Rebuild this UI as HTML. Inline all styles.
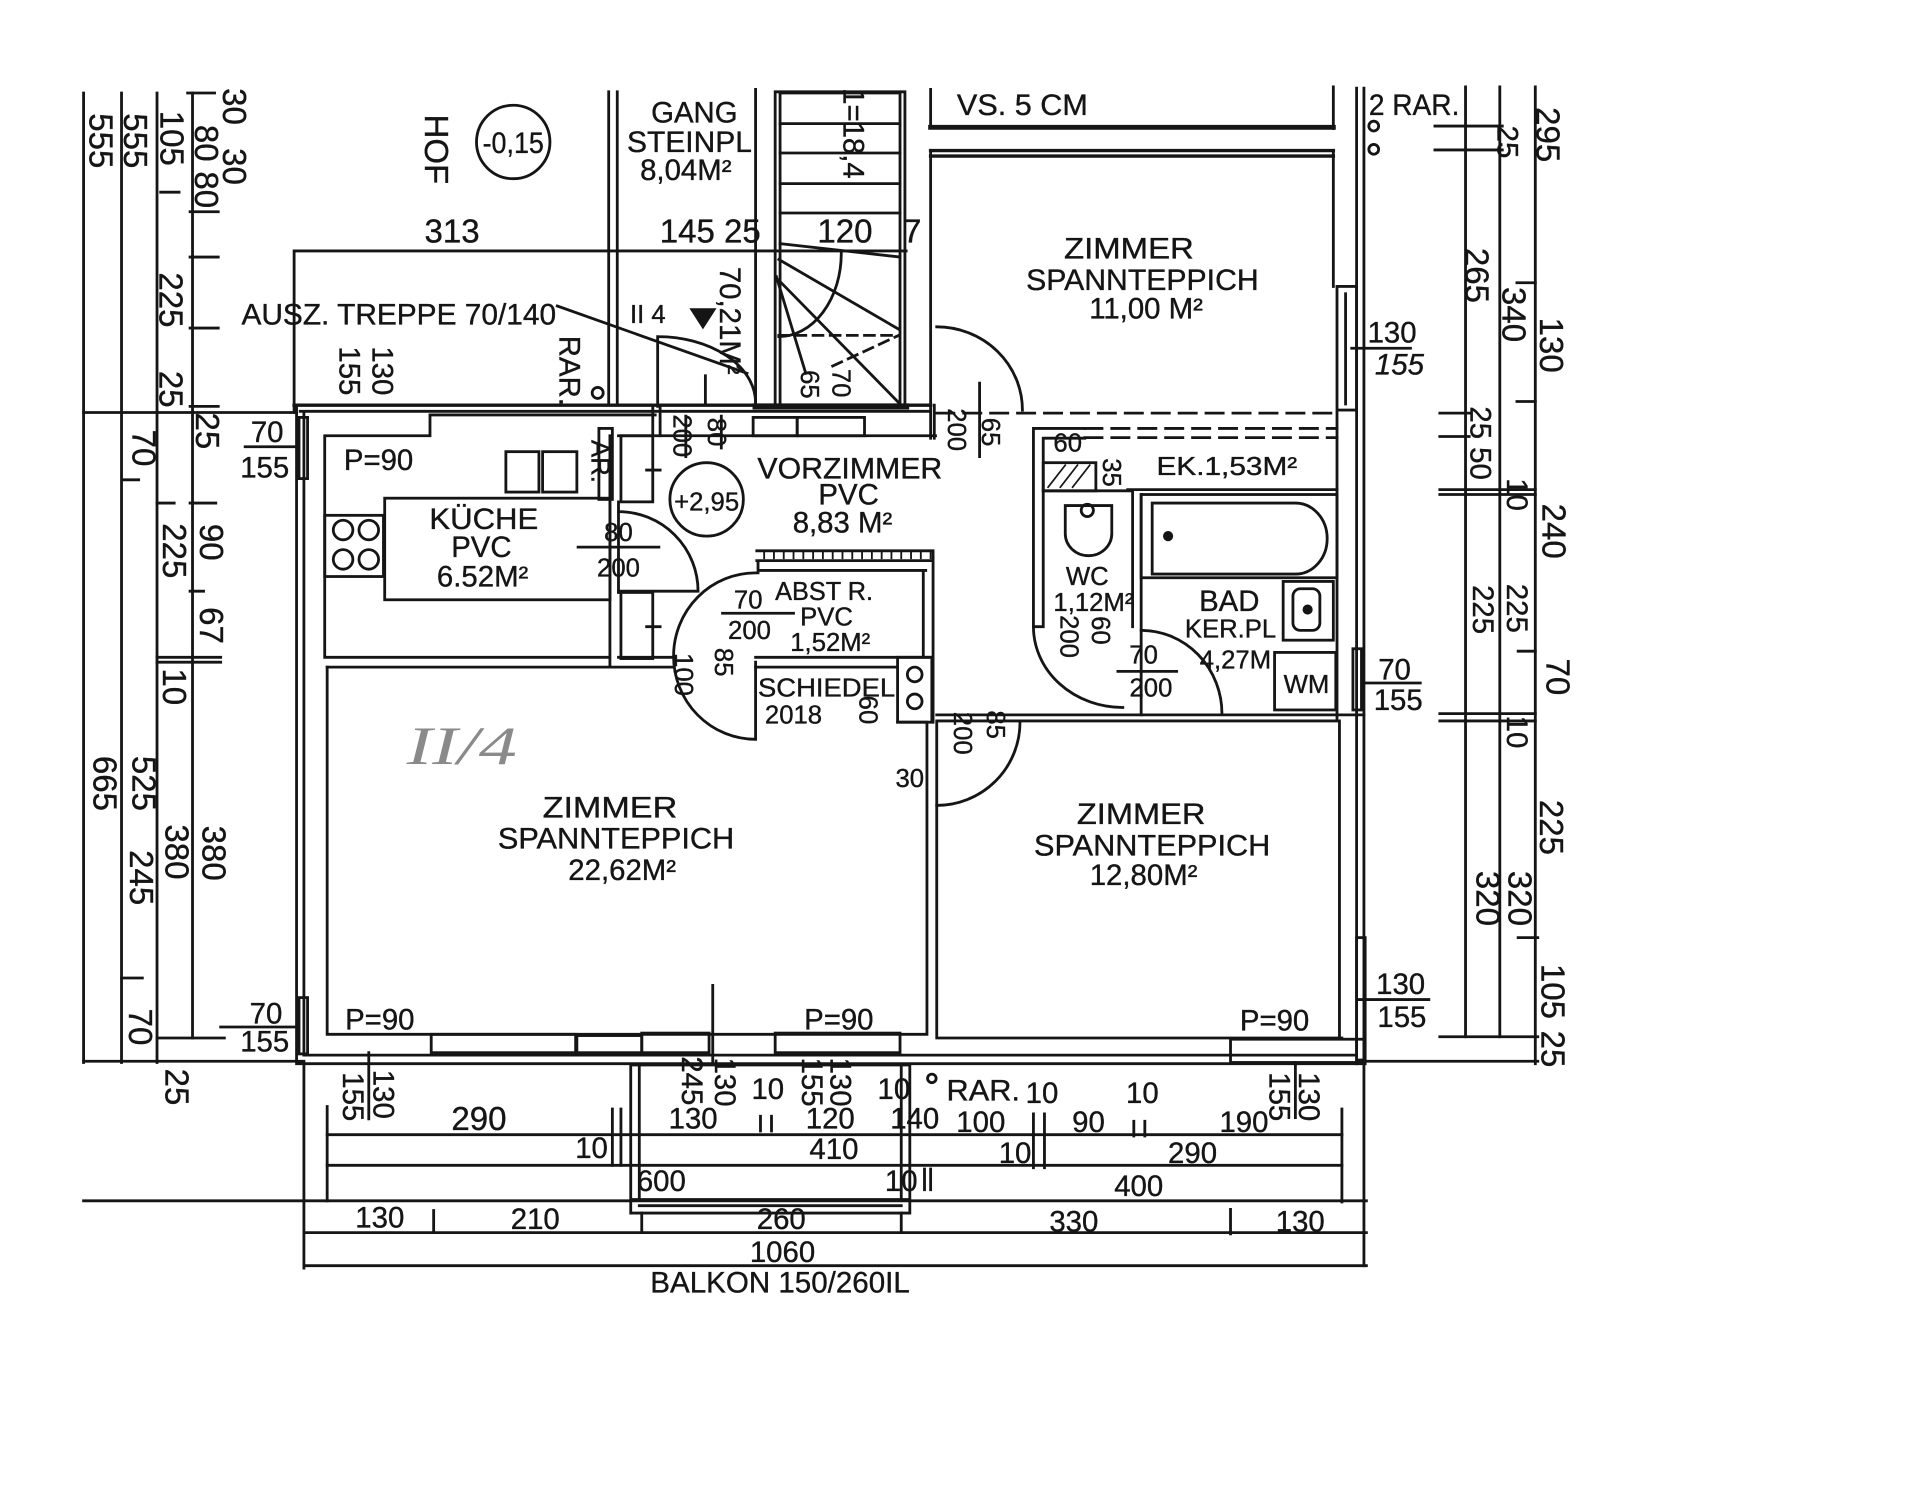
<!DOCTYPE html>
<html><head><meta charset="utf-8"><style>
html,body{margin:0;padding:0;background:#fff;overflow:hidden}
svg{display:block}
.t{font-family:"Liberation Sans",sans-serif;font-size:27px;fill:#151515;stroke:#151515;stroke-width:0.3}
.s{font-size:24px}
.x{font-size:21px}
</style></head><body>
<svg width="1920" height="1486" viewBox="0 0 1568 1214" xmlns="http://www.w3.org/2000/svg">
<rect width="1568" height="1214" fill="#fff"/>
<g fill="none" stroke="#151515" stroke-width="2.3" stroke-linecap="square">
<!-- left dimension lines -->
<path d="M68 76V868M99 76V868M128 76V868M157 76V848"/>
<path d="M68 337H242M68 867H248M128 848H183"/>
<path d="M153 76H175M155 173H178M155 210H178M155 268H178M155 332H178M131 157H146M101 392H113M155 411H176M128 411H142M155 483H166M128 537H180M128 541H180M99 799H116"/>
<!-- top-left -->
<path d="M240 205V337M240 205H740"/>
<!-- gang -->
<path d="M497 75V330M504 75V330M617 73V330"/>
<!-- stair -->
<path d="M633 75V332M637 75V332M735 75V332M739 75V332M633 75H739"/>
<path d="M637 76H735M637 101H735M637 125H735M637 150H735M637 174H735M637 199L735 210"/>
<path d="M636 212L734 269M636 229L734 329M634 226L658 305"/>
<path d="M636 274H734M680 299L734 274" stroke-dasharray="8 6"/>
<path d="M687 207A51 68 0 0 1 636 275"/>
<path d="M617 332H740" stroke-width="5"/>
<!-- AUSZ door -->
<path d="M455 250L610 305M537 275V332M576 307V330M537 275A80 54 0 0 1 617 329"/>
<path d="M565 253L583 253L574 267Z" fill="#151515"/>
<circle cx="488" cy="321" r="4.5"/>
<circle cx="419" cy="116" r="30"/>
<!-- VS box & zimmer 11 -->
<path d="M760 73V104M1089 71V105"/>
<path d="M760 104H1089" stroke-width="4"/>
<path d="M760 123H1089M760 127.5H1089" stroke-width="2.8"/>
<path d="M760 123V358M1089 123V234"/>
<rect x="1092" y="234" width="16" height="101"/>
<path d="M1099 240V330"/>
<path d="M1108 72V869M1114 72V869"/>
<circle cx="1122" cy="103" r="4"/><circle cx="1122" cy="122" r="4"/>
<path d="M1104 284.5H1152"/>
<!-- dashed -->
<path d="M765 337.5H1092M886 350H1092M886 357.5H1092" stroke-dasharray="14 8"/>
<!-- building outline -->
<path d="M240 331H760" stroke-width="2.8"/>
<path d="M245 336H760M242 331V869M248 336V862M242 869H1115M248 862H1108"/>
<rect x="244" y="341" width="7" height="50"/>
<rect x="244" y="815" width="7" height="46"/>
<!-- kitchen -->
<path d="M265 356H351V339H535M265 356V537M265 537H498M498 356V545M505 410V484"/>
<path d="M533 331V356M539 331V356"/>
<rect x="413" y="369" width="27" height="33"/><rect x="443" y="369" width="28" height="33"/>
<rect x="489" y="350" width="11" height="58"/>
<rect x="314" y="407" width="184" height="83"/>
<rect x="265" y="421" width="48" height="50"/>
<circle cx="280" cy="433" r="8"/><circle cx="301" cy="433" r="8"/><circle cx="280" cy="457" r="8"/><circle cx="301" cy="457" r="8"/>
<path d="M505 418A65 65 0 0 1 570 483L505 483"/>
<path d="M472 447H538"/>
<rect x="507" y="356" width="26" height="54"/><rect x="507" y="484" width="26" height="54"/>
<path d="M528 384H539M528 512H539"/>
<circle cx="577" cy="408" r="30"/>
<!-- vorzimmer -->
<path d="M505 356H764"/>
<rect x="615" y="341" width="36" height="15"/><rect x="651" y="341" width="55" height="15"/>
<path d="M560 340V373M589 340V366"/>
<path d="M765 267A70 68 0 0 1 835 335M800 313V373M763 331V358"/>
<!-- zimmer 22 top -->
<path d="M267 545H550M505 537H550"/>
<!-- abstr -->
<path d="M618 450H762M618 458H762M620 466H756M619 458V468M762 450V590M754 466V537M617 537H762M617 545H733"/>
<path d="M624 450v6M632 450v6M640 450v6M648 450v6M656 450v6M664 450v6M672 450v6M680 450v6M688 450v6M696 450v6M704 450v6M712 450v6M720 450v6M728 450v6M736 450v6M744 450v6M752 450v6M760 450v6" stroke-width="1.5"/>
<path d="M590 501H648"/>
<path d="M617 468A67 68 0 0 0 617 604M617 541V604"/>
<rect x="733" y="537" width="28" height="53"/>
<circle cx="747" cy="551" r="6"/><circle cx="747" cy="573" r="6"/>
<!-- zimmer 22 -->
<path d="M267 545V845M267 845H757M757 590V845M733 590H757"/>
<path d="M582 805V868"/>
<!-- WC/EK/bath -->
<path d="M844 350V512M852 358V512M844 512H852M844 350H886M852 358H886M921 400H1092"/>
<rect x="852" y="378" width="43" height="23"/>
<path d="M856 398L870 380M866 398L880 380M876 398L890 380" stroke-width="1.4"/>
<path d="M852 401H925M925 401V512M932 404V584"/>
<path d="M870 413H908V436A19 18 0 0 1 870 436Z"/>
<circle cx="888" cy="417" r="5"/>
<rect x="932" y="404" width="160" height="68"/>
<path d="M941 411H1058A26 29 0 0 1 1058 469H941Z"/>
<circle cx="954" cy="438" r="3" fill="#151515"/>
<rect x="1048" y="475" width="41" height="48"/>
<rect x="1056" y="481" width="22" height="34" rx="6"/>
<circle cx="1068" cy="498" r="3" fill="#151515"/>
<rect x="1041" y="533" width="50" height="47"/>
<path d="M932 515A66 68 0 0 1 998 583M844 512A73 66 0 0 0 917 578M913 548.5H961"/>
<rect x="1105" y="530" width="7" height="50"/>
<path d="M1114 558H1160"/>
<!-- zimmer 12.80 -->
<path d="M765 584H1114M765 589H1092M765 589V848M765 848H1096M1094 589V848M1092 337V589"/>
<path d="M833 590A68 68 0 0 1 765 658"/>
<rect x="1108" y="766" width="7" height="100"/>
<path d="M1110 816.6H1167"/>
<!-- left windows labels lines -->
<path d="M200 365H242M180 839H242"/>
<!-- bottom windows -->
<rect x="352" y="845" width="118" height="15"/><rect x="471" y="846" width="53" height="14"/>
<rect x="524" y="844" width="55" height="16"/><rect x="633" y="844" width="102" height="16"/>
<rect x="1005" y="849" width="109" height="19"/>
<!-- balcony -->
<path d="M515 870V991M522 870V980M736 870V980M743 870V991M515 870H743M515 980H743M522 985H736M515 991H743"/>
<!-- bottom dims -->
<path d="M267 927H1096M267 952H1096M68 981H1116M248 1007H1116M248 1034H1116"/>
<path d="M267 904V981M248 869V1036M1096 906V982M1114 869V1034M524 991V1007M736 991V1007"/>
<path d="M500 906V952M507 906V952M621 912V924M630 912V924M844 910V954M853 910V954M926 916V928M935 916V928M354 989V1006M1005 988V1008M755 955V972M760 955V972"/>
<path d="M301 860V914M1058 868V913"/>
<circle cx="761" cy="881" r="3.5"/>
<!-- right dims -->
<path d="M1197 71V847M1225 71V847M1254 71V869"/>
<path d="M1172 103H1227M1172 122.5H1227M1239 231H1254M1239 328H1254M1176 337.5H1200M1176 356.6H1200M1176 400H1254M1176 404H1254M1240 532H1254M1176 583H1254M1176 589H1254M1240 766H1256M1176 847H1256M1114 867H1256"/>
</g>
<!-- handwritten -->
<text x="332" y="624" font-family="Liberation Serif,serif" font-style="italic" font-size="44" fill="#8a8a8a" textLength="90" lengthAdjust="spacingAndGlyphs">II/4</text>
<g class="t">
<!-- left rotated -->
<text text-anchor="middle" transform="translate(73,115) rotate(90)">555</text>
<text text-anchor="middle" transform="translate(101,115) rotate(90)">555</text>
<text text-anchor="middle" transform="translate(131,113) rotate(90)">105</text>
<text text-anchor="middle" transform="translate(159,117) rotate(90)">80</text>
<text text-anchor="middle" transform="translate(159,155) rotate(90)">80</text>
<text text-anchor="middle" transform="translate(182,87) rotate(90)">30</text>
<text text-anchor="middle" transform="translate(182,136) rotate(90)">30</text>
<text text-anchor="middle" transform="translate(130,245) rotate(90)">225</text>
<text text-anchor="middle" transform="translate(130,318) rotate(90)">25</text>
<text text-anchor="middle" transform="translate(160,352) rotate(90)">25</text>
<text text-anchor="middle" transform="translate(108,366) rotate(90)">70</text>
<text text-anchor="middle" transform="translate(133,450) rotate(90)">225</text>
<text text-anchor="middle" transform="translate(163,443) rotate(90)">90</text>
<text text-anchor="middle" transform="translate(163,511) rotate(90)">67</text>
<text text-anchor="middle" transform="translate(133,561) rotate(90)">10</text>
<text text-anchor="middle" transform="translate(76,640) rotate(90)">665</text>
<text text-anchor="middle" transform="translate(108,640) rotate(90)">525</text>
<text text-anchor="middle" transform="translate(135,696) rotate(90)">380</text>
<text text-anchor="middle" transform="translate(165,697) rotate(90)">380</text>
<text text-anchor="middle" transform="translate(106,717) rotate(90)">245</text>
<text text-anchor="middle" transform="translate(105,839) rotate(90)">70</text>
<text text-anchor="middle" transform="translate(135,888) rotate(90)">25</text>
<text text-anchor="middle" transform="translate(347,122) rotate(90)">HOF</text>
<text class="s" text-anchor="middle" x="419" y="125" textLength="50" lengthAdjust="spacingAndGlyphs">-0,15</text>
<!-- top -->
<text text-anchor="middle" x="369" y="198">313</text>
<text text-anchor="middle" x="580" y="198">145 25</text>
<text text-anchor="middle" x="690" y="198">120</text>
<text text-anchor="middle" x="745" y="198">7</text>
<text class="s" text-anchor="middle" x="567" y="100">GANG</text>
<text class="s" text-anchor="middle" x="563" y="124" textLength="102" lengthAdjust="spacingAndGlyphs">STEINPL</text>
<text class="s" text-anchor="middle" x="560" y="147">8,04M²</text>
<text class="s" text-anchor="middle" transform="translate(689,109) rotate(90)">1=18,4</text>
<text class="s" text-anchor="middle" transform="translate(588,262) rotate(90)">70,21M²</text>
<text class="x" text-anchor="middle" transform="translate(680,313) rotate(90)">70</text>
<text class="x" text-anchor="middle" transform="translate(654,314) rotate(90)">65</text>
<text class="x" text-anchor="middle" x="529" y="264">II 4</text>
<text class="s" x="197" y="265" textLength="257" lengthAdjust="spacingAndGlyphs">AUSZ. TREPPE 70/140</text>
<text class="s" text-anchor="middle" transform="translate(457,303) rotate(90)">RAR.</text>
<text class="s" text-anchor="middle" transform="translate(277,303) rotate(90)">155</text>
<text class="s" text-anchor="middle" transform="translate(304,303) rotate(90)">130</text>
<text class="s" text-anchor="middle" x="835" y="94" textLength="107" lengthAdjust="spacingAndGlyphs">VS. 5 CM</text>
<text class="s" text-anchor="middle" x="1155" y="94" textLength="74" lengthAdjust="spacingAndGlyphs">2 RAR.</text>
<text class="s" text-anchor="middle" x="922" y="211" textLength="106" lengthAdjust="spacingAndGlyphs">ZIMMER</text>
<text class="s" text-anchor="middle" x="933" y="237" textLength="190" lengthAdjust="spacingAndGlyphs">SPANNTEPPICH</text>
<text class="s" text-anchor="middle" x="936" y="260">11,00 M²</text>
<text class="s" text-anchor="middle" x="1137" y="280">130</text>
<text class="s" text-anchor="middle" x="1143" y="306" font-style="italic">155</text>
<!-- left windows -->
<text class="s" text-anchor="middle" x="218" y="361">70</text>
<text class="s" text-anchor="middle" x="216" y="390">155</text>
<text class="s" text-anchor="middle" x="217" y="836">70</text>
<text class="s" text-anchor="middle" x="216" y="859">155</text>
<!-- kitchen -->
<text class="s" text-anchor="middle" x="309" y="384">P=90</text>
<text class="x" text-anchor="middle" transform="translate(483,377) rotate(90)">AR.</text>
<text class="s" text-anchor="middle" x="395" y="432" textLength="89" lengthAdjust="spacingAndGlyphs">KÜCHE</text>
<text class="s" text-anchor="middle" x="393" y="455">PVC</text>
<text class="s" text-anchor="middle" x="394" y="479">6.52M²</text>
<text class="x" text-anchor="middle" x="505" y="442">80</text>
<text class="x" text-anchor="middle" x="505" y="471">200</text>
<text class="x" text-anchor="middle" x="577" y="417">+2,95</text>
<text class="x" text-anchor="middle" transform="translate(550,356) rotate(90)">200</text>
<text class="x" text-anchor="middle" transform="translate(578,353) rotate(90)">80</text>
<!-- vorzimmer -->
<text class="s" text-anchor="middle" x="694" y="391" textLength="151" lengthAdjust="spacingAndGlyphs">VORZIMMER</text>
<text class="s" text-anchor="middle" x="693" y="412">PVC</text>
<text class="s" text-anchor="middle" x="688" y="435">8,83 M²</text>
<text class="x" text-anchor="middle" transform="translate(774,351) rotate(90)">200</text>
<text class="x" text-anchor="middle" transform="translate(802,353) rotate(90)">65</text>
<text class="x" text-anchor="middle" x="673" y="490" textLength="80" lengthAdjust="spacingAndGlyphs">ABST R.</text>
<text class="x" text-anchor="middle" x="611" y="497" font-size="18">70</text>
<text class="x" text-anchor="middle" x="675" y="511">PVC</text>
<text class="x" text-anchor="middle" x="612" y="522">200</text>
<text class="x" text-anchor="middle" x="678" y="532">1,52M²</text>
<text class="x" text-anchor="middle" x="675" y="569" textLength="112" lengthAdjust="spacingAndGlyphs">SCHIEDEL</text>
<text class="x" text-anchor="middle" x="648" y="591">2018</text>
<text class="x" text-anchor="middle" transform="translate(702,580) rotate(90)">60</text>
<text class="x" text-anchor="middle" transform="translate(551,551) rotate(90)">100</text>
<text class="x" text-anchor="middle" transform="translate(584,541) rotate(90)">85</text>
<text class="x" text-anchor="middle" x="743" y="643">30</text>
<text class="x" text-anchor="middle" transform="translate(779,599) rotate(90)">200</text>
<text class="x" text-anchor="middle" transform="translate(806,592) rotate(90)">85</text>
<!-- wc bad -->
<text class="x" text-anchor="middle" x="872" y="369">60</text>
<text class="x" text-anchor="middle" x="1002" y="388" textLength="115" lengthAdjust="spacingAndGlyphs">EK.1,53M²</text>
<text class="x" text-anchor="middle" transform="translate(901,386) rotate(90)">35</text>
<text class="x" text-anchor="middle" x="888" y="478">WC</text>
<text class="x" text-anchor="middle" x="893" y="499">1,12M²</text>
<text class="x" text-anchor="middle" transform="translate(866,520) rotate(90)">200</text>
<text class="x" text-anchor="middle" transform="translate(892,515) rotate(90)">60</text>
<text class="s" text-anchor="middle" x="1004" y="499">BAD</text>
<text class="x" text-anchor="middle" x="1005" y="521">KER.PL</text>
<text class="x" text-anchor="middle" x="1009" y="546">4,27M</text>
<text class="x" text-anchor="middle" x="1067" y="566">WM</text>
<text class="x" text-anchor="middle" x="934" y="542" font-size="18">70</text>
<text class="x" text-anchor="middle" x="940" y="569">200</text>
<text class="s" text-anchor="middle" x="1139" y="555">70</text>
<text class="s" text-anchor="middle" x="1142" y="580">155</text>
<!-- rooms -->
<text class="s" text-anchor="middle" x="498" y="668" textLength="110" lengthAdjust="spacingAndGlyphs">ZIMMER</text>
<text class="s" text-anchor="middle" x="503" y="693" textLength="193" lengthAdjust="spacingAndGlyphs">SPANNTEPPICH</text>
<text class="s" text-anchor="middle" x="508" y="719">22,62M²</text>
<text class="s" text-anchor="middle" x="932" y="673" textLength="105" lengthAdjust="spacingAndGlyphs">ZIMMER</text>
<text class="s" text-anchor="middle" x="941" y="699" textLength="193" lengthAdjust="spacingAndGlyphs">SPANNTEPPICH</text>
<text class="s" text-anchor="middle" x="934" y="723">12,80M²</text>
<text class="s" text-anchor="middle" x="310" y="841">P=90</text>
<text class="s" text-anchor="middle" x="685" y="841">P=90</text>
<text class="s" text-anchor="middle" x="1041" y="842">P=90</text>
<text class="s" text-anchor="middle" x="1144" y="812">130</text>
<text class="s" text-anchor="middle" x="1145" y="839">155</text>
<!-- bottom rotated -->
<text class="s" text-anchor="middle" transform="translate(280,896) rotate(90)">155</text>
<text class="s" text-anchor="middle" transform="translate(305,894) rotate(90)">130</text>
<text class="s" text-anchor="middle" transform="translate(557,883) rotate(90)">245</text>
<text class="s" text-anchor="middle" transform="translate(584,884) rotate(90)">130</text>
<text class="s" text-anchor="middle" transform="translate(655,884) rotate(90)">155</text>
<text class="s" text-anchor="middle" transform="translate(678,884) rotate(90)">130</text>
<text class="s" text-anchor="middle" transform="translate(1037,896) rotate(90)">155</text>
<text class="s" text-anchor="middle" transform="translate(1061,896) rotate(90)">130</text>
<!-- bottom dims -->
<text class="s" text-anchor="middle" x="627" y="898">10</text>
<text class="s" text-anchor="middle" x="730" y="898">10</text>
<text class="s" text-anchor="middle" x="803" y="899" textLength="60" lengthAdjust="spacingAndGlyphs">RAR.</text>
<text class="s" text-anchor="middle" x="851" y="901">10</text>
<text class="s" text-anchor="middle" x="933" y="901">10</text>
<text text-anchor="middle" x="391" y="923">290</text>
<text class="s" text-anchor="middle" x="566" y="922">130</text>
<text class="s" text-anchor="middle" x="678" y="922">120</text>
<text class="s" text-anchor="middle" x="747" y="922">140</text>
<text class="s" text-anchor="middle" x="801" y="925">100</text>
<text class="s" text-anchor="middle" x="889" y="925">90</text>
<text class="s" text-anchor="middle" x="1016" y="925">190</text>
<text class="s" text-anchor="middle" x="483" y="946">10</text>
<text class="s" text-anchor="middle" x="681" y="947">410</text>
<text class="s" text-anchor="middle" x="829" y="950">10</text>
<text class="s" text-anchor="middle" x="974" y="950">290</text>
<text class="s" text-anchor="middle" x="540" y="973">600</text>
<text class="s" text-anchor="middle" x="736" y="973">10</text>
<text class="s" text-anchor="middle" x="930" y="977">400</text>
<text class="s" text-anchor="middle" x="310" y="1003">130</text>
<text class="s" text-anchor="middle" x="437" y="1004">210</text>
<text class="s" text-anchor="middle" x="638" y="1004">260</text>
<text class="s" text-anchor="middle" x="877" y="1006">330</text>
<text class="s" text-anchor="middle" x="1062" y="1006">130</text>
<text class="s" text-anchor="middle" x="639" y="1031">1060</text>
<text class="s" text-anchor="middle" x="637" y="1056" textLength="212" lengthAdjust="spacingAndGlyphs">BALKON 150/260IL</text>
<!-- right rotated -->
<text text-anchor="middle" transform="translate(1255,110) rotate(90)">295</text>
<text class="s" text-anchor="middle" transform="translate(1223,116) rotate(90)">25</text>
<text text-anchor="middle" transform="translate(1197,225) rotate(90)">265</text>
<text text-anchor="middle" transform="translate(1227,257) rotate(90)">340</text>
<text text-anchor="middle" transform="translate(1258,282) rotate(90)">130</text>
<text class="s" text-anchor="middle" transform="translate(1201,362) rotate(90)">25 50</text>
<text class="s" text-anchor="middle" transform="translate(1231,404) rotate(90)">10</text>
<text text-anchor="middle" transform="translate(1260,434) rotate(90)">240</text>
<text class="s" text-anchor="middle" transform="translate(1203,498) rotate(90)">225</text>
<text class="s" text-anchor="middle" transform="translate(1231,497) rotate(90)">225</text>
<text text-anchor="middle" transform="translate(1263,553) rotate(90)">70</text>
<text class="s" text-anchor="middle" transform="translate(1231,598) rotate(90)">10</text>
<text text-anchor="middle" transform="translate(1258,676) rotate(90)">225</text>
<text text-anchor="middle" transform="translate(1206,734) rotate(90)">320</text>
<text text-anchor="middle" transform="translate(1232,734) rotate(90)">320</text>
<text text-anchor="middle" transform="translate(1259,810) rotate(90)">105</text>
<text text-anchor="middle" transform="translate(1259,857) rotate(90)">25</text>
</g>
</svg>
</body></html>
